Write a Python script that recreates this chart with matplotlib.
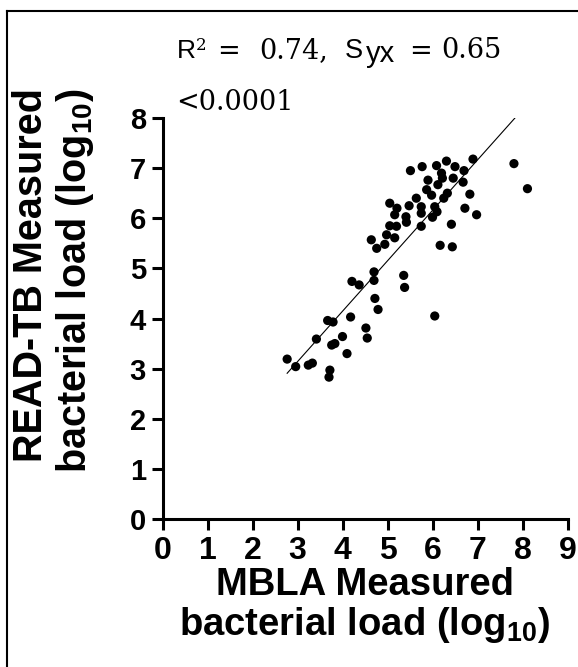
import matplotlib
matplotlib.use("Agg")
import matplotlib.pyplot as plt
from matplotlib.lines import Line2D
import numpy as np

plt.rcParams['font.family'] = ['Liberation Sans', 'DejaVu Sans']
plt.rcParams['mathtext.fontset'] = 'custom'
plt.rcParams['mathtext.rm'] = 'Liberation Sans'
plt.rcParams['mathtext.bf'] = 'Liberation Sans:bold'
plt.rcParams['mathtext.default'] = 'rm'

# MBLA (x) vs READ-TB (y) measured bacterial load, log10
mbla = [5.51, 5.77, 6.09, 6.31, 6.50, 6.70, 6.90, 6.20, 6.22, 6.46,
        6.68, 5.90, 6.12, 5.87, 5.98, 6.33, 6.25, 6.83, 5.64, 5.05,
        5.21, 5.48, 5.75, 6.05, 6.72, 5.16, 5.41, 5.75, 6.00, 6.98,
        5.42, 5.75, 6.42, 5.05, 5.20, 4.98, 5.16, 4.64, 7.81, 8.11,
        4.76, 4.94, 6.17, 6.44, 4.70, 4.70, 4.21, 4.37, 5.36, 5.38,
        4.72, 4.79, 6.05, 4.18, 4.52, 4.55, 3.67, 3.79, 3.42, 4.00,
        3.76, 3.83, 4.10, 2.77, 2.96, 3.24, 3.33, 3.72, 3.70, 6.10]
readtb = [6.95, 7.03, 7.05, 7.14, 7.03, 6.95, 7.18, 6.90, 6.80, 6.80,
          6.72, 6.76, 6.67, 6.57, 6.46, 6.50, 6.40, 6.48, 6.40, 6.30,
          6.20, 6.25, 6.23, 6.23, 6.20, 6.07, 6.03, 6.10, 6.02, 6.07,
          5.92, 5.84, 5.88, 5.85, 5.84, 5.67, 5.61, 5.57, 7.09, 6.59,
          5.40, 5.48, 5.46, 5.43, 4.93, 4.76, 4.74, 4.67, 4.86, 4.62,
          4.40, 4.18, 4.05, 4.03, 3.81, 3.61, 3.96, 3.93, 3.59, 3.64,
          3.47, 3.50, 3.30, 3.19, 3.04, 3.07, 3.11, 2.97, 2.83, 6.13]
fit_slope = 1.006
fit_intercept = 0.121
r_squared = "0.74"
s_yx = "0.65"
p_text = "<0.0001"
x_ticks = [0, 1, 2, 3, 4, 5, 6, 7, 8, 9]
y_ticks = [0, 1, 2, 3, 4, 5, 6, 7, 8]

W, H = 578, 667
fig = plt.figure(figsize=(W / 100, H / 100), dpi=100)
ax = fig.add_axes([162.5 / W, 1 - 519 / H, 405 / W, 401 / H])

ax.scatter(mbla, readtb, s=44, color='black', edgecolors='none', zorder=3, clip_on=False)
xf = np.array([min(mbla), max(mbla)])
ax.plot(xf, fit_slope * xf + fit_intercept, color='black', lw=0.8, zorder=2)

ax.set_xlim(0, 9)
ax.set_ylim(0, 8)
ax.set_xticks(x_ticks)
ax.set_yticks(y_ticks)
for s in ['top', 'right']:
    ax.spines[s].set_visible(False)
for s in ['left', 'bottom']:
    ax.spines[s].set_linewidth(2.2)
ax.tick_params(axis='both', direction='out', length=8, width=2.2)
ax.tick_params(axis='y', pad=4, labelsize=21)
ax.tick_params(axis='x', pad=4, labelsize=23)
for lab in ax.get_xticklabels() + ax.get_yticklabels():
    lab.set_fontweight('bold')

ax.set_xlabel('MBLA Measured\nbacterial load (log$_{\\mathbf{10}}$)', fontsize=27.5,
              fontweight='bold', labelpad=1, linespacing=1.05)
fig.text(54 / W, 1 - 88 / H, 'READ-TB Measured\nbacterial load (log$_{\\mathbf{10}}$)',
         rotation=90, ha='center', va='top', multialignment='right',
         fontsize=28.5, fontweight='bold', linespacing=1.1)


def piece(xpx, ypx, s, size, family):
    fig.text(xpx / W, 1 - ypx / H, s, fontsize=size, family=family,
             ha='left', va='baseline')


SERIF = 'DejaVu Serif'
SANS = 'Liberation Sans'
base1 = 58.5
piece(177, base1, 'R', 19, SANS)
piece(196, base1 - 8, '2', 12, SERIF)
piece(217, base1, '=', 19.5, SERIF)
piece(259, base1, r_squared + ',', 19.5, SERIF)
piece(345, base1, 'S', 19.5, SANS)
piece(366, base1 + 4, 'yx', 21, SANS)
piece(409, base1, '=', 19.5, SERIF)
piece(441, base1, s_yx, 19.5, SERIF)
piece(176, 110, p_text, 19.5, SERIF)

# figure border (clipped at right/bottom)
fig.add_artist(Line2D([7 / W, 7 / W], [0, 1 - 11 / H], transform=fig.transFigure,
                      color='black', lw=1.5))
fig.add_artist(Line2D([7 / W, 1], [1 - 11 / H, 1 - 11 / H], transform=fig.transFigure,
                      color='black', lw=1.5))

fig.savefig('out.png', dpi=100, facecolor='white')
